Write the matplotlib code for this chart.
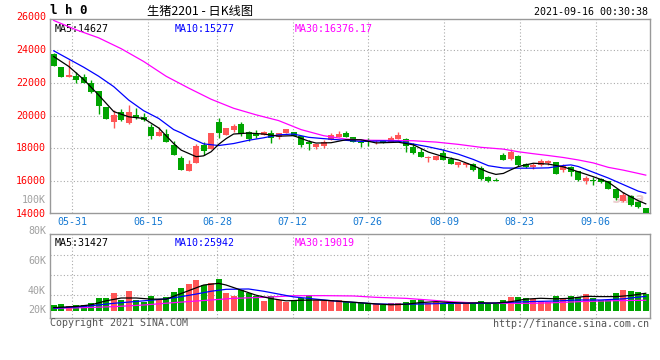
import matplotlib
matplotlib.use("Agg")
import matplotlib.pyplot as plt
import numpy as np

# ---- daily K data (lh2201) ----
opens = [23757, 22946, 22378, 22419, 22338, 22013, 21507, 20514, 19642, 20250,
         19581, 20027, 19926, 19297, 18790, 18892, 18223, 17434, 16643, 17090,
         18183, 17980, 19622, 18791, 19156, 19500, 19014, 18852, 18811, 18953,
         18670, 18953, 18994, 18730, 18365, 18082, 18122, 18487, 18690, 18953,
         18690, 18365, 18487, 18426, 18528, 18406, 18589, 18568, 18082, 17798,
         17393, 17271, 17717, 17352, 16987, 16987, 17028, 16825, 16237, 16095,
         17616, 17352, 17555, 17048, 16866, 17007, 17129, 17150, 16663, 16866,
         16622, 16014, 16095, 16136, 15994, 15548, 14818, 15123, 14717, 14393]
closes = [23047, 22378, 22500, 22176, 22013, 21466, 20615, 19804, 20047, 19743,
          20250, 19885, 19763, 18770, 19013, 18405, 17575, 16704, 17069, 18180,
          17818, 18953, 18933, 19257, 19399, 18892, 18548, 18771, 19014, 18609,
          18913, 19196, 18730, 18224, 18284, 18244, 18386, 18811, 18893, 18690,
          18365, 18325, 18406, 18446, 18325, 18649, 18791, 18122, 17717, 17454,
          17434, 17555, 17312, 17028, 17150, 17109, 16704, 16136, 16035, 15994,
          17312, 17798, 16967, 16866, 17007, 17210, 17210, 16460, 16947, 16541,
          16095, 16176, 16014, 15933, 15548, 14981, 15143, 14575, 14433, 14069]
highs = [23800, 22946, 23392, 22642, 22540, 22176, 21507, 20514, 20351, 20412,
         20655, 20453, 20148, 19500, 19297, 19175, 18426, 17555, 17312, 18264,
         18386, 18953, 19845, 19257, 19521, 19622, 19095, 19115, 19095, 19136,
         18953, 19196, 18994, 18730, 18528, 18300, 18487, 18933, 19095, 19095,
         18690, 18528, 18629, 18528, 18528, 18730, 18974, 18649, 18325, 18021,
         17555, 17555, 17960, 17474, 17150, 17109, 17109, 16906, 16298, 16197,
         17717, 17980, 17616, 17109, 17109, 17352, 17312, 17150, 17028, 16906,
         16622, 16298, 16258, 16197, 15994, 15548, 15325, 15183, 14798, 14393]
lows = [23000, 22378, 22378, 22013, 22013, 21365, 20108, 19804, 19277, 19682,
        19520, 19804, 19682, 18568, 18790, 18365, 17575, 16704, 16643, 17090,
        17616, 17980, 18629, 18791, 19034, 18771, 18426, 18629, 18811, 18325,
        18600, 18953, 18730, 18100, 17920, 17980, 18021, 18487, 18690, 18690,
        18365, 18082, 18163, 18300, 18325, 18406, 18589, 17798, 17677, 17454,
        17190, 17271, 17312, 17028, 16845, 16865, 16623, 16095, 15933, 15994,
        17271, 17312, 16947, 16785, 16764, 16947, 17007, 16460, 16582, 16298,
        15994, 15852, 15751, 15893, 15548, 14880, 14717, 14474, 14352, 14069]
# volume in thousands
volumes = [10.6, 12.4, 8.3, 10.6, 10.6, 14.2, 23.0, 23.0, 31.9, 20.1,
           35.4, 19.5, 16.5, 26.6, 19.5, 24.8, 33.7, 40.8, 47.8, 54.9,
           46.1, 49.6, 56.7, 31.9, 27.2, 37.2, 31.9, 26.6, 17.7, 26.6,
           19.5, 15.9, 19.5, 23.0, 28.4, 19.5, 17.7, 19.5, 19.5, 15.5,
           14.8, 13.6, 13.6, 11.8, 10.6, 13.6, 13.6, 16.5, 19.5, 20.7,
           14.8, 16.5, 12.4, 13.6, 14.8, 13.6, 13.6, 17.7, 13.6, 12.4,
           19.5, 25.4, 25.4, 23.6, 20.7, 18.3, 16.5, 27.2, 23.6, 27.2,
           25.4, 30.7, 23.6, 19.5, 19.5, 32.5, 37.2, 36.0, 33.7, 29.5]

# moving-average lines, read at some candle indices
ma5_x = [0, 2, 4, 6, 8, 10, 12, 14, 16, 17, 18, 19, 20, 21, 22, 23, 24, 26, 28, 30,
         32, 34, 35, 37, 39, 41, 43, 46, 48, 50, 52, 54, 56, 58, 59, 60, 61, 62, 64, 66,
         68, 70, 72, 74, 76, 78, 79]
ma5_y = [23600, 23000, 22200, 21250, 20250, 19930, 19830, 19250, 18300, 17900,
         17700, 17500, 17550, 17800, 18250, 18600, 18880, 18940, 18880, 18750,
         18780, 18450, 18330, 18350, 18530, 18530, 18340, 18380, 18220, 17780,
         17500, 17300, 16950, 16550, 16420, 16480, 16700, 16900, 17100, 17050,
         16880, 16580, 16280, 15950, 15300, 14820, 14627]
ma10_x = [0, 2, 4, 6, 8, 10, 12, 14, 16, 17, 18, 20, 22, 24, 26, 28, 30, 32, 34, 36,
          38, 41, 44, 46, 48, 50, 52, 54, 56, 58, 60, 62, 64, 66, 68, 69, 70, 72, 74, 76,
          78, 79]
ma10_y = [23950, 23450, 22950, 22400, 21770, 20950, 20300, 19830, 19150, 18950,
          18700, 18280, 18180, 18300, 18500, 18650, 18830, 18880, 18680, 18600,
          18530, 18430, 18460, 18440, 18270, 18100, 17900, 17650, 17330, 16950,
          16810, 16800, 16800, 16820, 16960, 17000, 16900, 16550, 16200, 15800,
          15400, 15277]
ma30_x = [0, 3, 6, 9, 12, 15, 18, 21, 24, 27, 30, 33, 36, 39, 42, 45, 48, 51, 54, 57,
          60, 62, 64, 66, 68, 70, 72, 74, 76, 78, 79]
ma30_y = [25800, 25230, 24740, 24080, 23300, 22400, 21680, 21000, 20450, 20050,
          19700, 19150, 18780, 18570, 18500, 18490, 18470, 18390, 18250, 18070,
          17960, 17800, 17680, 17570, 17450, 17300, 17120, 16850, 16680, 16480,
          16376]

vma5_x = [0, 3, 5, 7, 9, 11, 13, 15, 16, 18, 20, 22, 23, 25, 27, 29, 31, 33, 35, 37,
          39, 41, 43, 45, 47, 49, 51, 53, 55, 57, 59, 61, 63, 65, 67, 69, 71, 73, 75, 77,
          78, 79]
vma5_y = [6.0, 8.0, 11.0, 18.0, 23.0, 23.0, 21.0, 21.0, 26.0, 36.0,
          46.0, 49.0, 46.0, 37.0, 28.0, 22.0, 18.0, 19.0, 19.5, 18.3,
          16.5, 14.5, 12.5, 11.0, 12.0, 15.0, 16.5, 15.0, 14.0, 14.5,
          14.0, 16.5, 21.0, 22.5, 21.5, 22.5, 26.0, 25.5, 25.5, 27.5,
          29.5, 31.4]
vma10_x = [0, 4, 8, 12, 15, 17, 19, 21, 23, 26, 28, 30, 32, 35, 37, 39, 41, 43, 46, 49,
           52, 55, 58, 61, 64, 67, 70, 73, 76, 78, 79]
vma10_y = [5.0, 8.0, 13.6, 18.0, 21.5, 25.4, 30.0, 35.0, 38.4, 39.0,
           35.0, 30.0, 25.0, 21.0, 18.3, 16.0, 14.5, 12.5, 11.8, 12.4,
           13.3, 13.6, 13.6, 15.5, 16.8, 17.7, 19.5, 19.5, 21.5, 24.5,
           25.9]
vma30_x = [0, 4, 8, 12, 16, 21, 24, 28, 32, 36, 40, 43, 47, 50, 53, 57, 60, 64, 67, 71,
           75, 79]
vma30_y = [4.7, 5.9, 7.7, 10.6, 14.8, 19.5, 22.4, 24.2, 27.0, 27.2,
           26.6, 24.2, 22.4, 19.5, 16.5, 13.6, 13.6, 13.6, 14.8, 17.0,
           18.3, 19.0]

date_labels = ["05-31", "06-15", "06-28", "07-12", "07-26", "08-09", "08-23", "09-06"]
date_pos = [2.47, 12.6, 21.8, 31.9, 41.9, 52.07, 62.2, 72.3]
price_labels = [26000, 24000, 22000, 20000, 18000, 16000, 14000]
vol_labels = ["100K", "80K", "60K", "40K", "20K"]

UP = "#ff5656"
DOWN = "#00a400"
GRID = "#aaaaaa"
FRAME = "#999999"
MONO = "DejaVu Sans Mono"
FS = 7.2

W, H = 660, 360


def fx(x):
    return x / W


def fy(y):
    return 1 - y / H


fig = plt.figure(figsize=(6.6, 3.6), dpi=100)
ax = fig.add_axes([fx(50), fy(213.3), 599.5 / W, 194.3 / H])
axv = fig.add_axes([fx(50), fy(317.7), 599.5 / W, 83.4 / H])

o = np.array(opens, float)
c = np.array(closes, float)
hi = np.array(highs, float)
lo = np.array(lows, float)
idx = np.arange(len(o))
cols = [UP if cc >= oo else DOWN for oo, cc in zip(o, c)]

# price panel
ax.vlines(idx, lo, hi, colors=cols, lw=1.0, zorder=3)
ax.bar(idx, np.maximum(np.abs(c - o), 60), bottom=np.minimum(o, c), width=0.8,
       color=cols, zorder=4, linewidth=0)
ax.plot(ma30_x, ma30_y, color="#ff00ff", lw=0.9, zorder=5)
ax.plot(ma10_x, ma10_y, color="#0000ff", lw=0.9, zorder=5)
ax.plot(ma5_x, ma5_y, color="black", lw=0.9, zorder=5)

ax.set_xlim(-0.5, 79.5)
ax.set_ylim(14050, 25889)
ax.set_yticks([16000, 18000, 20000, 22000, 24000])
ax.set_yticklabels([])
ax.set_xticks(date_pos)
ax.set_xticklabels(date_labels, family=MONO, fontsize=FS, color="#1478d2")
ax.tick_params(length=0, pad=3)
ax.tick_params(axis="y", length=0, pad=0)
ax.grid(True, color=GRID, linestyle=(0, (1, 2)), lw=0.8)
ax.set_axisbelow(True)
for s in ax.spines.values():
    s.set_color(FRAME)
    s.set_linewidth(1.0)

for p in price_labels:
    ax.text(-0.0067, p, str(p), transform=ax.get_yaxis_transform(), ha="right",
            va="center", family=MONO, fontsize=FS, color="#ff0000", clip_on=False)

ax.text(0.0085, 0.975, "MA5:14627", transform=ax.transAxes, family=MONO, fontsize=FS,
        color="black", va="top")
ax.text(0.2085, 0.975, "MA10:15277", transform=ax.transAxes, family=MONO, fontsize=FS,
        color="#0000ff", va="top")
ax.text(0.4085, 0.975, "MA30:16376.17", transform=ax.transAxes, family=MONO, fontsize=FS,
        color="#ff00ff", va="top")

# faint watermark
ax.text(0.965, 0.075, "sina", transform=ax.transAxes, ha="center", va="center",
        fontsize=10, fontweight="bold", style="italic", color="#e3b9b9", alpha=0.7,
        zorder=2)

# volume panel
v = np.array(volumes) * 1000
axv.bar(idx, v, width=0.8, color=cols, linewidth=0, zorder=3)
axv.plot(vma30_x, np.array(vma30_y) * 1000, color="#ff00ff", lw=0.9, zorder=5)
axv.plot(vma10_x, np.array(vma10_y) * 1000, color="#0000ff", lw=0.9, zorder=5)
axv.plot(vma5_x, np.array(vma5_y) * 1000, color="black", lw=0.9, zorder=5)
axv.set_xlim(-0.5, 79.5)
y0, y1 = -11900, 135900
axv.set_ylim(y0, y1)
axv.set_yticks([y0 + f * (y1 - y0) for f in (0.272, 0.512, 0.752)])
axv.set_yticklabels([])
axv.set_xticks(date_pos)
axv.set_xticklabels([])
axv.tick_params(length=0)
axv.grid(True, color=GRID, linestyle=(0, (1, 2)), lw=0.8)
axv.set_axisbelow(True)
for s in axv.spines.values():
    s.set_color(FRAME)
    s.set_linewidth(1.0)

axv.text(0.0085, 0.95, "MA5:31427", transform=axv.transAxes, family=MONO, fontsize=FS,
         color="black", va="top")
axv.text(0.2085, 0.95, "MA10:25942", transform=axv.transAxes, family=MONO, fontsize=FS,
         color="#0000ff", va="top")
axv.text(0.4085, 0.95, "MA30:19019", transform=axv.transAxes, family=MONO, fontsize=FS,
         color="#ff00ff", va="top")

for lab, ypix in zip(vol_labels, [200, 230.7, 261, 290.7, 310]):
    fig.text(fx(46), fy(ypix), lab, ha="right", va="center", family=MONO,
             fontsize=FS, color="#a0a0a0")

# header and footer
fig.text(fx(50), fy(11), "l h 0", ha="left", va="center", family=MONO,
         fontsize=9, fontweight="bold", color="black")
fig.text(fx(200), fy(11.5), "生猪2201 - 日K线图", ha="center", va="center",
         family=["Noto Sans CJK SC", "DejaVu Sans"], fontsize=8.8, color="black")
fig.text(fx(648), fy(12), "2021-09-16 00:30:38", ha="right", va="center",
         family=MONO, fontsize=FS, color="black")
fig.text(fx(50), fy(323.5), "Copyright 2021 SINA.COM", ha="left", va="center",
         family=MONO, fontsize=FS, color="#555555")
fig.text(fx(649), fy(324), "http://finance.sina.com.cn", ha="right", va="center",
         family=MONO, fontsize=FS, color="#555555")

fig.savefig("out.png", dpi=100)
